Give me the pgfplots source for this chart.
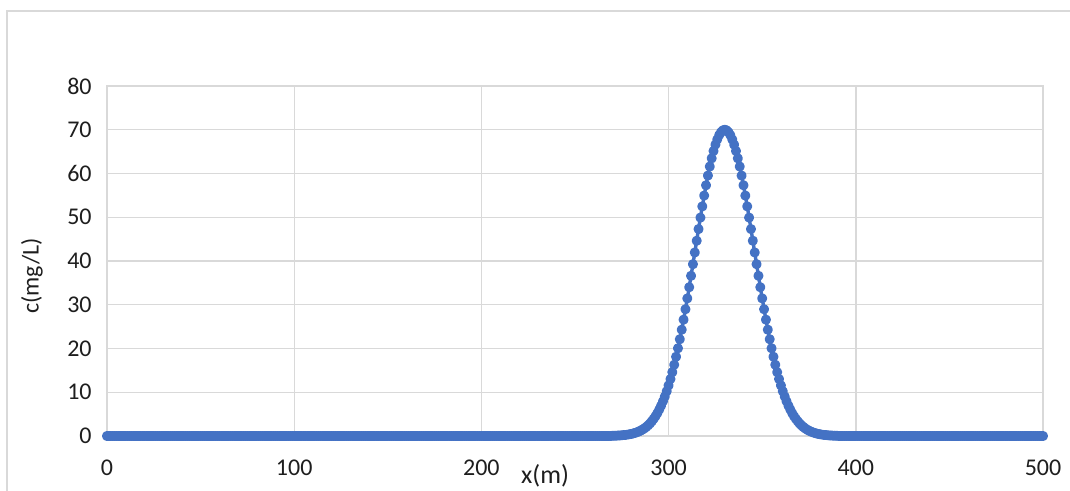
\documentclass[border=0pt]{standalone}
\usepackage{fontspec}
\setmainfont{Carlito}
\usepackage{pgfplots}
\pgfplotsset{compat=1.18}
\definecolor{plotblue}{RGB}{68,114,196}
\definecolor{gridgray}{RGB}{217,217,217}
\definecolor{labelgray}{RGB}{30,30,30}

\begin{document}
\begin{tikzpicture}
\begin{axis}[
  scale only axis,
  width=468pt, height=175pt,
  xmin=0, xmax=500, ymin=0, ymax=80,
  xtick={0,100,...,500}, ytick={0,10,...,80},
  grid=major,
  major grid style={draw=gridgray, line width=0.7pt},
  axis line style={draw=gridgray, line width=0.7pt},
  major tick length=0pt,
  clip=false,
  /pgf/number format/assume math mode=true,
  tick label style={font=\fontsize{12}{14}\selectfont, text=labelgray, inner sep=0pt},
  xticklabel style={anchor=north, yshift=-12pt},
  yticklabel style={anchor=east, xshift=-7.5pt},
  label style={text=labelgray},
  xlabel={x(m)},
  xlabel style={font=\fontsize{13}{15}\selectfont, at={(rel axis cs:0.468,-0.114)}, anchor=center},
  ylabel={c(mg/L)},
  ylabel style={font=\fontsize{12}{14}\selectfont, at={(rel axis cs:-0.0801,0.457)}, anchor=center},
]
\coordinate (bl) at (rel axis cs:-0.11432,-0.15714);
\coordinate (tr) at (rel axis cs:1.02885,1.24571);
\draw[gridgray, line width=0.6pt] (rel axis cs:-0.10684,-0.3) -- (rel axis cs:-0.10684,1.21429) -- (rel axis cs:1.2,1.21429);

\addplot[plotblue, line width=1.7pt, line join=round, line cap=round,
  mark=*, mark size=1.65pt, mark options={fill=plotblue, draw=none}]
coordinates {
(0,0)(1,0)(2,0)(3,0)(4,0)(5,0)(6,0)(7,0)(8,0)(9,0)
(10,0)(11,0)(12,0)(13,0)(14,0)(15,0)(16,0)(17,0)(18,0)(19,0)
(20,0)(21,0)(22,0)(23,0)(24,0)(25,0)(26,0)(27,0)(28,0)(29,0)
(30,0)(31,0)(32,0)(33,0)(34,0)(35,0)(36,0)(37,0)(38,0)(39,0)
(40,0)(41,0)(42,0)(43,0)(44,0)(45,0)(46,0)(47,0)(48,0)(49,0)
(50,0)(51,0)(52,0)(53,0)(54,0)(55,0)(56,0)(57,0)(58,0)(59,0)
(60,0)(61,0)(62,0)(63,0)(64,0)(65,0)(66,0)(67,0)(68,0)(69,0)
(70,0)(71,0)(72,0)(73,0)(74,0)(75,0)(76,0)(77,0)(78,0)(79,0)
(80,0)(81,0)(82,0)(83,0)(84,0)(85,0)(86,0)(87,0)(88,0)(89,0)
(90,0)(91,0)(92,0)(93,0)(94,0)(95,0)(96,0)(97,0)(98,0)(99,0)
(100,0)(101,0)(102,0)(103,0)(104,0)(105,0)(106,0)(107,0)(108,0)(109,0)
(110,0)(111,0)(112,0)(113,0)(114,0)(115,0)(116,0)(117,0)(118,0)(119,0)
(120,0)(121,0)(122,0)(123,0)(124,0)(125,0)(126,0)(127,0)(128,0)(129,0)
(130,0)(131,0)(132,0)(133,0)(134,0)(135,0)(136,0)(137,0)(138,0)(139,0)
(140,0)(141,0)(142,0)(143,0)(144,0)(145,0)(146,0)(147,0)(148,0)(149,0)
(150,0)(151,0)(152,0)(153,0)(154,0)(155,0)(156,0)(157,0)(158,0)(159,0)
(160,0)(161,0)(162,0)(163,0)(164,0)(165,0)(166,0)(167,0)(168,0)(169,0)
(170,0)(171,0)(172,0)(173,0)(174,0)(175,0)(176,0)(177,0)(178,0)(179,0)
(180,0)(181,0)(182,0)(183,0)(184,0)(185,0)(186,0)(187,0)(188,0)(189,0)
(190,0)(191,0)(192,0)(193,0)(194,0)(195,0)(196,0)(197,0)(198,0)(199,0)
(200,0)(201,0)(202,0)(203,0)(204,0)(205,0)(206,0)(207,0)(208,0)(209,0)
(210,0)(211,0)(212,0)(213,0)(214,0)(215,0)(216,0)(217,0)(218,0)(219,0)
(220,0)(221,0)(222,0)(223,0)(224,0)(225,0)(226,0)(227,0)(228,0)(229,0)
(230,0)(231,0)(232,0)(233,0)(234,0)(235,0)(236,0)(237,0)(238,0)(239,0)
(240,0)(241,0)(242,0)(243,0)(244,0)(245,0)(246,0)(247,0)(248,0)(249,0)
(250,0)(251,0)(252,0)(253,0)(254,0)(255,0)(256,0)(257,0)(258,0)(259,0)
(260,0)(261,0)(262,0)(263,0)(264,0)(265,0)(266,0)(267,0)(268,0)(269,0)
(270,0.052)(271,0.066)(272,0.084)(273,0.105)(274,0.132)(275,0.165)(276,0.205)(277,0.254)(278,0.314)(279,0.385)
(280,0.472)(281,0.575)(282,0.698)(283,0.844)(284,1.017)(285,1.220)(286,1.457)(287,1.734)(288,2.055)(289,2.427)
(290,2.853)(291,3.342)(292,3.898)(293,4.529)(294,5.241)(295,6.041)(296,6.934)(297,7.929)(298,9.030)(299,10.242)
(300,11.571)(301,13.020)(302,14.592)(303,16.289)(304,18.111)(305,20.055)(306,22.120)(307,24.300)(308,26.589)(309,28.977)
(310,31.453)(311,34.005)(312,36.616)(313,39.271)(314,41.951)(315,44.634)(316,47.299)(317,49.924)(318,52.483)(319,54.954)
(320,57.311)(321,59.531)(322,61.590)(323,63.465)(324,65.137)(325,66.586)(326,67.795)(327,68.751)(328,69.442)(329,69.860)
(330,70.000)
(331,69.860)(332,69.442)(333,68.751)(334,67.795)(335,66.586)(336,65.137)(337,63.465)(338,61.590)(339,59.531)(340,57.311)
(341,54.954)(342,52.483)(343,49.924)(344,47.299)(345,44.634)(346,41.951)(347,39.271)(348,36.616)(349,34.005)(350,31.453)
(351,28.977)(352,26.589)(353,24.300)(354,22.120)(355,20.055)(356,18.111)(357,16.289)(358,14.592)(359,13.020)(360,11.571)
(361,10.242)(362,9.030)(363,7.929)(364,6.934)(365,6.041)(366,5.241)(367,4.529)(368,3.898)(369,3.342)(370,2.853)
(371,2.427)(372,2.055)(373,1.734)(374,1.457)(375,1.220)(376,1.017)(377,0.844)(378,0.698)(379,0.575)(380,0.472)
(381,0.385)(382,0.314)(383,0.254)(384,0.205)(385,0.165)(386,0.132)(387,0.105)(388,0.084)(389,0.066)(390,0.052)
(391,0)(392,0)(393,0)(394,0)(395,0)(396,0)(397,0)(398,0)(399,0)
(400,0)(401,0)(402,0)(403,0)(404,0)(405,0)(406,0)(407,0)(408,0)(409,0)
(410,0)(411,0)(412,0)(413,0)(414,0)(415,0)(416,0)(417,0)(418,0)(419,0)
(420,0)(421,0)(422,0)(423,0)(424,0)(425,0)(426,0)(427,0)(428,0)(429,0)
(430,0)(431,0)(432,0)(433,0)(434,0)(435,0)(436,0)(437,0)(438,0)(439,0)
(440,0)(441,0)(442,0)(443,0)(444,0)(445,0)(446,0)(447,0)(448,0)(449,0)
(450,0)(451,0)(452,0)(453,0)(454,0)(455,0)(456,0)(457,0)(458,0)(459,0)
(460,0)(461,0)(462,0)(463,0)(464,0)(465,0)(466,0)(467,0)(468,0)(469,0)
(470,0)(471,0)(472,0)(473,0)(474,0)(475,0)(476,0)(477,0)(478,0)(479,0)
(480,0)(481,0)(482,0)(483,0)(484,0)(485,0)(486,0)(487,0)(488,0)(489,0)
(490,0)(491,0)(492,0)(493,0)(494,0)(495,0)(496,0)(497,0)(498,0)(499,0)
(500,0)
};
\end{axis}
\pgfresetboundingbox
\path (bl) rectangle (tr);
\end{tikzpicture}
\end{document}
